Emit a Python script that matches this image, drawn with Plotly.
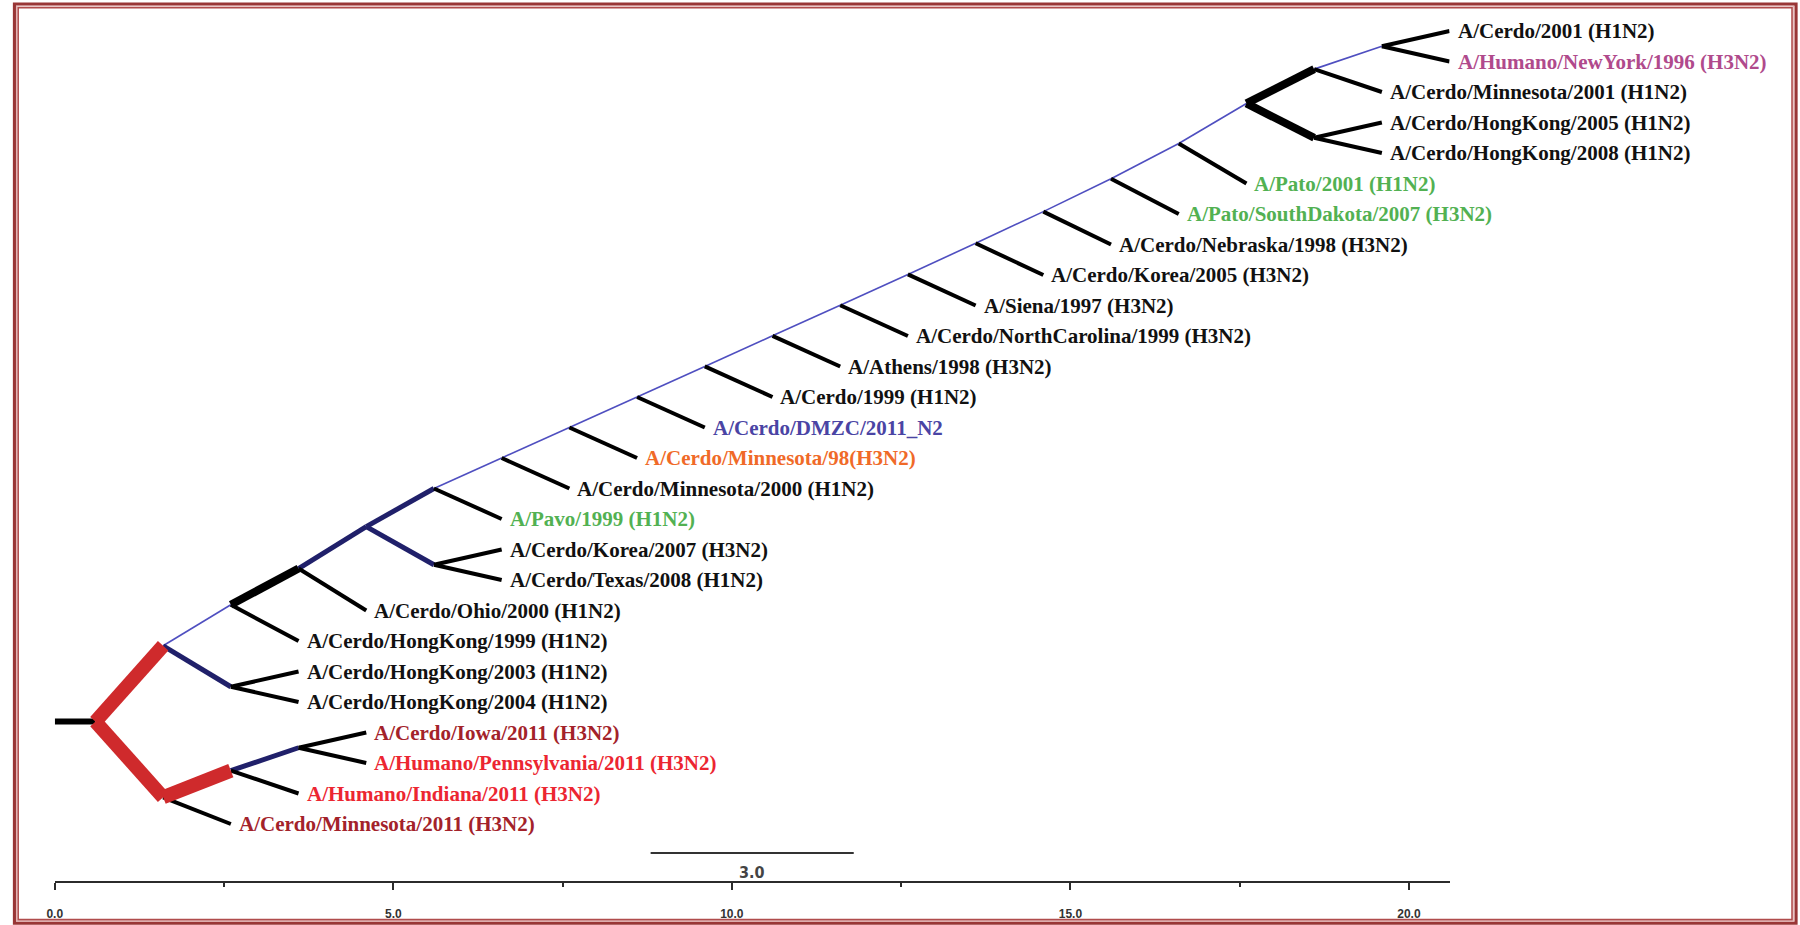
import plotly.graph_objects as go

W, H = 1800, 925

# ---------------- data ----------------
leaf_names = [
    "A/Cerdo/2001 (H1N2)",
    "A/Humano/NewYork/1996 (H3N2)",
    "A/Cerdo/Minnesota/2001 (H1N2)",
    "A/Cerdo/HongKong/2005 (H1N2)",
    "A/Cerdo/HongKong/2008 (H1N2)",
    "A/Pato/2001 (H1N2)",
    "A/Pato/SouthDakota/2007 (H3N2)",
    "A/Cerdo/Nebraska/1998 (H3N2)",
    "A/Cerdo/Korea/2005 (H3N2)",
    "A/Siena/1997 (H3N2)",
    "A/Cerdo/NorthCarolina/1999 (H3N2)",
    "A/Athens/1998 (H3N2)",
    "A/Cerdo/1999 (H1N2)",
    "A/Cerdo/DMZC/2011_N2",
    "A/Cerdo/Minnesota/98(H3N2)",
    "A/Cerdo/Minnesota/2000 (H1N2)",
    "A/Pavo/1999 (H1N2)",
    "A/Cerdo/Korea/2007 (H3N2)",
    "A/Cerdo/Texas/2008 (H1N2)",
    "A/Cerdo/Ohio/2000 (H1N2)",
    "A/Cerdo/HongKong/1999 (H1N2)",
    "A/Cerdo/HongKong/2003 (H1N2)",
    "A/Cerdo/HongKong/2004 (H1N2)",
    "A/Cerdo/Iowa/2011 (H3N2)",
    "A/Humano/Pennsylvania/2011 (H3N2)",
    "A/Humano/Indiana/2011 (H3N2)",
    "A/Cerdo/Minnesota/2011 (H3N2)",
]
leaf_colors = [
    "#111111", "#b04a8c", "#111111", "#111111", "#111111",
    "#52b152", "#52b152", "#111111", "#111111", "#111111",
    "#111111", "#111111", "#111111", "#4a44a4", "#f06a28",
    "#111111", "#52b152", "#111111", "#111111", "#111111",
    "#111111", "#111111", "#111111", "#a3222a", "#ec2631",
    "#ec2631", "#a3222a",
]
leaf_parent = [
    "Y", "Y", "W", "X", "X", "U", "T", "S", "R2", "Q", "P", "O", "N",
    "M", "L", "K", "I", "J", "J", "G", "F", "E", "E", "D", "D", "C", "B",
]
leaf_branch = [
    1.0, 1.0, 1.0, 1.0, 1.0, 1.0, 1.0, 1.0, 1.0, 1.0, 1.0, 1.0, 1.0,
    1.0, 1.0, 1.0, 1.0, 1.0, 1.0, 1.0, 1.0, 1.0, 1.0, 1.0, 1.0, 1.0, 1.0,
]

# internal nodes (parents listed before children)
node_names = ["R", "A", "B", "C", "D", "E", "F", "G", "H", "I", "J", "K", "L",
              "M", "N", "O", "P", "Q", "R2", "S", "T", "U", "V", "W", "X", "Y"]
node_parent = [None, "R", "R", "B", "C", "A", "A", "F", "G", "H", "H", "I", "K",
               "L", "M", "N", "O", "P", "Q", "R2", "S", "T", "U", "V", "V", "W"]
node_branch = [0.6, 1.0, 1.0, 1.0, 1.0, 1.0, 1.0, 1.0, 1.0, 1.0, 1.0, 1.0, 1.0,
               1.0, 1.0, 1.0, 1.0, 1.0, 1.0, 1.0, 1.0, 1.0, 1.0, 1.0, 1.0, 1.0]
node_style = ["stub", "red", "red", "red", "navy", "navy", "thin", "bold", "navy",
              "navy", "navy", "thin", "thin", "thin", "thin", "thin", "thin", "thin",
              "thin", "thin", "thin", "thin", "thin", "bold", "bold", "thin"]

axis_ticks = [0, 5, 10, 15, 20]
axis_tick_labels = ["0.0", "5.0", "10.0", "15.0", "20.0"]
axis_minor_ticks = [2.5, 7.5, 12.5, 17.5]
axis_max = 20.6

scale_start = 8.8
scale_length = 3.0
scale_label = "3.0"

styles = {
    "thin": ("#4f4fc0", 1.6),
    "navy": ("#20206a", 5),
    "leaf": ("#000000", 4),
    "bold": ("#000000", 8),
    "stub": ("#000000", 6),
    "red": ("#cf2a2c", 14),
}
draw_order = ["thin", "navy", "leaf", "bold", "stub", "red"]

# ---------------- layout of the tree ----------------
children = {n: [] for n in node_names}
for n, p in zip(node_names, node_parent):
    if p is not None:
        children[p].append(("node", n))
for i, p in enumerate(leaf_parent):
    children[p].append(("leaf", i))

nx = {}
for n, p, b in zip(node_names, node_parent, node_branch):
    nx[n] = (0.0 if p is None else nx[p]) + b
lx = [nx[p] + b for p, b in zip(leaf_parent, leaf_branch)]

ny = {}
def ycalc(n):
    vals = []
    for kind, c in children[n]:
        vals.append(float(c) if kind == "leaf" else ycalc(c))
    ny[n] = sum(vals) / len(vals)
    return ny[n]
ycalc("R")

segs = {k: ([], []) for k in styles}
for n, p, st in zip(node_names, node_parent, node_style):
    xs, ys = segs[st]
    if p is None:
        xs += [0.0, nx[n], None]
        ys += [ny[n], ny[n], None]
    else:
        xs += [nx[p], nx[n], None]
        ys += [ny[p], ny[n], None]
for i, p in enumerate(leaf_parent):
    xs, ys = segs["leaf"]
    xs += [nx[p], lx[i], None]
    ys += [ny[p], float(i), None]

fig = go.Figure()
for st in draw_order:
    col, wd = styles[st]
    xs, ys = segs[st]
    if not xs:
        continue
    fig.add_trace(go.Scatter(x=xs, y=ys, mode="lines", cliponaxis=False,
                             line=dict(color=col, width=wd), hoverinfo="skip",
                             showlegend=False))

# scale bar
y_scale = 26.95
fig.add_trace(go.Scatter(x=[scale_start, scale_start + scale_length], y=[y_scale, y_scale],
                         mode="lines", line=dict(color="#333333", width=2),
                         cliponaxis=False, showlegend=False, hoverinfo="skip"))

annotations = []
for i, (name, col) in enumerate(zip(leaf_names, leaf_colors)):
    annotations.append(dict(x=lx[i], y=i, xref="x", yref="y", text=name,
                            showarrow=False, xanchor="left", yanchor="middle",
                            xshift=6,
                            font=dict(family="Liberation Serif, Times New Roman, serif",
                                      size=21, color=col, weight="bold")))
annotations.append(dict(x=scale_start + scale_length / 2, y=27.6, xref="x", yref="y",
                        text=scale_label, showarrow=False, xanchor="center",
                        yanchor="middle",
                        font=dict(family="Liberation Sans Narrow, DejaVu Sans Condensed, Arial Narrow, sans-serif",
                                  size=16, color="#444444", weight="bold")))

def px(xp):
    return xp / W
def py(yp):
    return 1 - yp / H

shapes = [
    dict(type="rect", xref="paper", yref="paper", x0=px(6.5), x1=px(1796), y0=py(4.2), y1=py(923.2),
         line=dict(color="#993636", width=3.2), layer="above"),
    dict(type="rect", xref="paper", yref="paper", x0=px(8.6), x1=px(1793.8), y0=py(6.2), y1=py(921.2),
         line=dict(color="#e2b4b4", width=1.2), layer="above"),
    dict(type="rect", xref="paper", yref="paper", x0=px(10.2), x1=px(1792), y0=py(7.8), y1=py(919.6),
         line=dict(color="#b04c4c", width=1.6), layer="above"),
]

fig.update_layout(
    width=W, height=H,
    margin=dict(l=0, r=0, t=0, b=0),
    paper_bgcolor="white", plot_bgcolor="white",
    showlegend=False,
    annotations=annotations,
    shapes=shapes,
    xaxis=dict(domain=[47 / W, 1448 / W], range=[0, axis_max], anchor="free",
               position=1 - 882 / H, showline=True, linecolor="#2b2b2b", linewidth=2,
               ticks="outside", ticklen=7, tickwidth=2, tickcolor="#2b2b2b",
               tickvals=axis_ticks, ticktext=axis_tick_labels,
               tickfont=dict(family="Liberation Sans, Arial, sans-serif", size=12,
                             color="#333333", weight="bold"),
               ticklabelstandoff=14,
               minor=dict(tickvals=axis_minor_ticks, ticklen=4, tickwidth=2,
                          tickcolor="#2b2b2b", ticks="outside"),
               showgrid=False, zeroline=False),
    yaxis=dict(domain=[0, 1], range=[(H - 31) / 30.5, -31 / 30.5], visible=False,
               showgrid=False, zeroline=False),
)

fig.write_html("out.html",
               config={"displayModeBar": False},
               post_script="document.body.style.margin='0';document.body.style.overflow='hidden';")
